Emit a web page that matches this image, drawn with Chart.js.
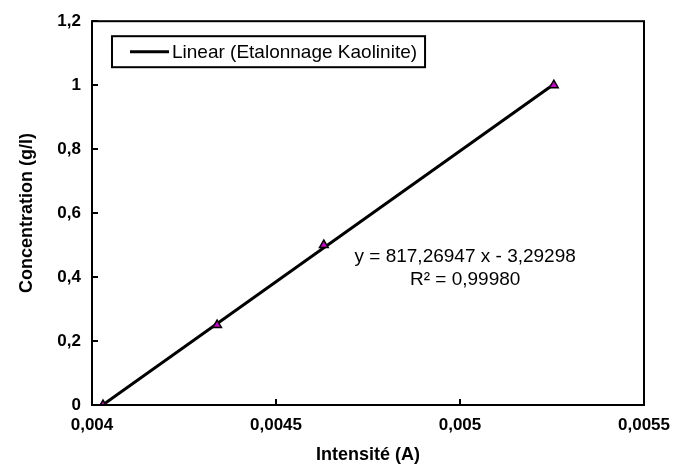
<!DOCTYPE html>
<html>
<head>
<meta charset="utf-8">
<script src="https://cdn.jsdelivr.net/npm/chart.js@4"></script>
<style>
  body { margin: 0; background: #fff; }
  #wrap { width: 680px; height: 466px; }
</style>
</head>
<body>
<div id="wrap"><canvas id="myChart"></canvas></div>
<script>

let intensite = [0.00403, 0.00434, 0.00463, 0.005255];
let concentration = [0, 0.25, 0.5, 1];
let xTicks = [0.004, 0.0045, 0.005, 0.0055];
let yTicks = [0, 0.2, 0.4, 0.6, 0.8, 1, 1.2];
let legendLabel = "Linear (Etalonnage Kaolinite)";
let equationLines = ["y = 817,26947 x - 3,29298", "R² = 0,99980"];

// least squares trend line over the measured points
let n = intensite.length;
let mx = intensite.reduce((a, b) => a + b, 0) / n;
let my = concentration.reduce((a, b) => a + b, 0) / n;
let sxy = 0, sxx = 0;
for (let i = 0; i < n; i++) {
    sxy += (intensite[i] - mx) * (concentration[i] - my);
    sxx += (intensite[i] - mx) * (intensite[i] - mx);
}
let slope = sxy / sxx;
let intercept = my - slope * mx;
let xMin = Math.min(...intensite), xMax = Math.max(...intensite);
let trend = [
    { x: xMin, y: slope * xMin + intercept },
    { x: xMax, y: slope * xMax + intercept }
];

let points = intensite.map((x, i) => ({ x: x, y: concentration[i] }));

let fmt = v => String(v).replace('.', ',');

// box, inward ticks, legend box and equation text
let frame = {
    id: 'frame',
    afterDatasetsDraw(chart) {
        let ctx = chart.ctx;
        let a = chart.chartArea;
        let xs = chart.scales.x, ys = chart.scales.y;
        ctx.save();
        ctx.strokeStyle = '#000';
        ctx.lineWidth = 2;
        ctx.strokeRect(a.left, a.top, a.right - a.left, a.bottom - a.top);
        ctx.beginPath();
        xTicks.forEach(v => {
            let px = Math.round(xs.getPixelForValue(v));
            ctx.moveTo(px, a.bottom);
            ctx.lineTo(px, a.bottom - 6);
        });
        yTicks.forEach(v => {
            let py = Math.round(ys.getPixelForValue(v));
            ctx.moveTo(a.left, py);
            ctx.lineTo(a.left + 6, py);
        });
        ctx.stroke();

        // legend
        ctx.font = '19px "Liberation Sans", Arial, sans-serif';
        let tw = ctx.measureText(legendLabel).width;
        let bx = a.left + 20, by = a.top + 15;
        let bw = 60 + tw + 8, bh = 31;
        ctx.fillStyle = '#fff';
        ctx.fillRect(bx, by, bw, bh);
        ctx.lineWidth = 2;
        ctx.strokeRect(bx, by, bw, bh);
        ctx.lineWidth = 3;
        ctx.beginPath();
        ctx.moveTo(bx + 18, by + bh / 2);
        ctx.lineTo(bx + 57, by + bh / 2);
        ctx.stroke();
        ctx.fillStyle = '#000';
        ctx.textBaseline = 'middle';
        ctx.textAlign = 'left';
        ctx.fillText(legendLabel, bx + 60, by + bh / 2 + 1);

        // equation
        ctx.textAlign = 'center';
        let ex = a.left + (a.right - a.left) * 0.676;
        let ey = a.top + (a.bottom - a.top) * 0.615;
        ctx.fillText(equationLines[0], ex, ey);
        ctx.fillText(equationLines[1], ex, ey + 23);
        ctx.restore();
    }
};

let tickFont = { family: '"Liberation Sans", Arial, sans-serif', size: 17, weight: 'bold' };
let titleFont = { family: '"Liberation Sans", Arial, sans-serif', size: 18, weight: 'bold' };

let myChart = document.getElementById("myChart").getContext('2d');

let chart = new Chart(myChart, {
    type: 'scatter',
    data: {
        datasets: [{
            label: 'Etalonnage Kaolinite',
            data: points,
            pointStyle: 'triangle',
            pointRadius: 5,
            backgroundColor: '#cc00cc',
            borderColor: '#000',
            borderWidth: 1.5,
            showLine: false
        }, {
            label: legendLabel,
            data: trend,
            showLine: true,
            borderColor: '#000',
            borderWidth: 3,
            pointRadius: 0,
            fill: false
        }]
    },
    options: {
        responsive: true,
        maintainAspectRatio: false,
        animation: false,
        layout: { padding: { top: 21, right: 32, left: 0, bottom: 0 } },
        plugins: {
            legend: { display: false },
            tooltip: { enabled: false }
        },
        scales: {
            x: {
                type: 'linear',
                min: 0.004,
                max: 0.0055,
                afterBuildTicks: s => { s.ticks = xTicks.map(v => ({ value: v })); },
                afterFit: s => { s.height = 61; },
                grid: { display: false, drawTicks: false },
                border: { display: false },
                ticks: { color: '#000', font: tickFont, padding: 10, maxRotation: 0, callback: v => fmt(v) },
                title: {
                    display: true,
                    text: 'Intensité (A)',
                    color: '#000',
                    font: titleFont,
                    padding: { top: 0, bottom: 0 }
                }
            },
            y: {
                min: 0,
                max: 1.2,
                afterBuildTicks: s => { s.ticks = yTicks.map(v => ({ value: v })); },
                afterFit: s => { s.width = 92; },
                grid: { display: false, drawTicks: false },
                border: { display: false },
                ticks: { color: '#000', font: tickFont, padding: 11, callback: v => fmt(v) },
                title: {
                    display: true,
                    text: 'Concentration (g/l)',
                    color: '#000',
                    font: titleFont,
                    padding: { top: 16, bottom: 0 }
                }
            }
        }
    },
    plugins: [frame]
});

</script>
</body>
</html>
